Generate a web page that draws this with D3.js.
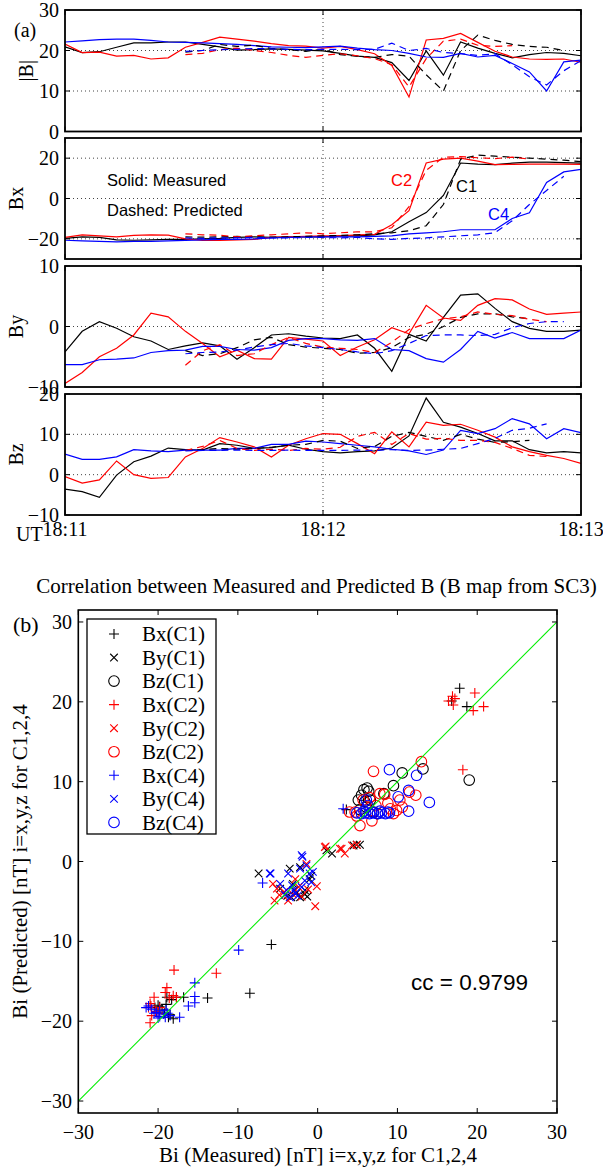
<!DOCTYPE html>
<html>
<head>
<meta charset="utf-8">
<script src="https://cdn.jsdelivr.net/npm/d3@7"></script>
<style>
  body { margin: 0; background: #fff; }
  svg { display: block; }
  .serif { font-family: "Liberation Serif", "Times New Roman", serif; }
  .sans { font-family: "Liberation Sans", Arial, sans-serif; }
</style>
</head>
<body>
<div id="chart"></div>
<script>
// ---- time series (4 s samples, 18:11 -> 18:13) ----
var timeSec = [0,4,8,12,16,20,24,28,32,36,40,44,48,52,56,60,64,68,72,76,80,84,88,92,96,100,104,108,112,116,120];
var timeTicks = [0, 60, 120];
var timeTickLabels = ["18:11", "18:12", "18:13"];
var N = null;

// |B|
var bMagC1 = [20.9,19.5,19.7,20.8,21.9,21.9,22.1,22.1,21.5,20.9,20.1,20.2,20.4,20.3,20.1,19.9,19.3,18.6,18.3,17.0,12.6,19.9,13.9,22.1,20.6,19.3,18.2,19.0,19.5,19.3,18.7];
var bMagC2 = [21.6,19.5,19.6,18.6,18.8,17.9,18.2,20.8,22.0,23.3,22.8,22.3,21.7,21.2,21.1,20.6,21.0,20.2,19.2,16.3,8.5,22.6,23.0,24.2,22.0,19.8,18.4,17.9,17.8,17.9,17.1];
var bMagC4 = [22.1,22.4,22.7,22.8,22.8,22.5,22.1,22.0,21.9,21.7,21.5,21.2,20.9,20.8,20.7,20.9,21.1,20.6,20.2,20.0,19.3,18.4,18.3,19.3,18.4,18.8,16.8,14.7,10.0,17.2,17.6];
var bMagC1p = [N,N,N,N,N,N,N,19.6,20.0,21.5,21.0,21.3,20.5,20.2,19.8,20.3,19.0,18.6,18.3,19.0,18.6,14.0,10.0,20.0,23.8,22.5,21.5,21.0,20.8,20.0,N];
var bMagC2p = [N,N,N,N,N,N,N,19.0,19.3,20.2,20.6,20.0,19.5,18.8,18.3,18.8,19.2,18.7,18.0,16.5,11.0,18.0,22.3,22.8,21.3,21.0,21.2,N,N,N,N];
var bMagC4p = [N,N,N,N,N,N,N,19.8,20.0,20.2,20.3,20.5,20.4,20.3,20.2,20.3,20.3,20.2,20.3,21.8,20.0,20.5,19.5,19.2,18.8,19.2,16.5,13.5,11.5,15.0,17.5];

// Bx
var bxC1 = [-19.8,-19.0,-19.3,-20.5,-20.7,-20.5,-20.3,-20.3,-20.0,-19.8,-19.3,-19.0,-19.3,-19.0,-19.0,-19.0,-18.5,-18.5,-18.0,-16.5,-11.5,-7.0,1.5,17.6,17.0,16.8,17.5,18.0,18.0,17.8,17.5];
var bxC2 = [-19.3,-18.0,-18.5,-19.0,-18.3,-18.0,-18.2,-20.0,-20.8,-20.8,-20.5,-20.3,-19.3,-19.0,-18.8,-18.5,-18.5,-18.0,-17.8,-13.0,-6.0,17.6,19.5,20.0,18.5,16.8,16.9,17.0,17.0,17.0,16.9];
var bxC4 = [-20.7,-21.0,-21.3,-21.5,-21.3,-21.3,-21.0,-20.8,-20.5,-20.3,-20.3,-20.0,-19.5,-19.3,-19.0,-19.0,-19.0,-19.0,-18.8,-18.5,-17.5,-17.0,-16.5,-15.5,-15.5,-15.5,-9.9,-7.1,8.0,13.2,14.4];
var bxC1p = [N,N,N,N,N,N,N,-19.0,-19.2,-19.0,-18.8,-19.0,-19.2,-19.0,-18.8,-18.5,-18.3,-18.0,-17.5,-17.0,-16.0,-13.5,-3.0,19.5,21.5,21.0,20.5,20.0,19.5,19.0,18.3];
var bxC2p = [N,N,N,N,N,N,N,-17.5,-18.0,-18.2,-19.0,-18.5,-18.0,-17.5,-17.0,-17.5,-17.0,-16.5,-16.5,-14.5,-4.0,14.0,20.5,20.8,20.2,19.8,20.5,19.5,N,N,N];
var bxC4p = [N,N,N,N,N,N,N,-19.5,-19.8,-19.5,-19.5,-19.3,-19.5,-19.5,-19.3,-19.3,-19.5,-19.3,-20.0,-20.3,-19.8,-19.5,-19.0,-18.5,-18.0,-17.0,-11.0,-3.0,4.0,11.0,N];

// By
var byC1 = [-4.2,-0.8,0.8,-0.3,-1.7,-2.4,-3.8,-3.2,-2.7,-3.2,-5.4,-3.5,-1.4,-1.2,-1.6,-1.9,-2.0,-1.4,-3.6,-7.4,-1.3,-2.4,1.5,5.2,5.4,3.0,0.8,-0.3,-0.8,-0.8,-0.6];
var byC2 = [-9.4,-7.6,-5.0,-3.6,-1.4,2.2,1.6,-0.8,-2.8,-5.0,-3.9,-5.3,-5.4,-1.8,-2.1,-2.4,-4.8,-3.4,-2.2,-0.2,-1.2,3.5,1.4,1.0,3.5,4.6,4.4,2.9,2.0,2.2,2.4];
var byC4 = [-6.3,-6.3,-5.5,-5.4,-5.2,-4.3,-4.0,-3.9,-3.3,-3.3,-3.8,-3.9,-3.5,-2.3,-2.0,-2.0,-2.2,-2.3,-2.0,-3.8,-4.0,-5.3,-5.9,-3.8,-0.8,-1.9,-1.0,-2.0,-2.0,-2.0,-0.6];
var byC1p = [N,N,N,N,N,N,N,-4.0,-4.8,-4.5,-3.5,-2.2,-1.8,-3.0,-3.4,-3.6,-3.8,-4.4,-4.3,-3.5,-1.8,-1.3,0.0,1.5,2.1,2.1,1.6,1.3,N,N,N];
var byC2p = [N,N,N,N,N,N,N,-6.4,-4.0,-3.0,-4.8,-4.5,-3.0,-1.8,-2.8,-3.4,-3.6,-3.8,-4.3,-2.6,-0.5,0.5,1.3,1.6,2.4,2.0,1.8,1.2,0.8,N,N];
var byC4p = [N,N,N,N,N,N,N,-4.5,-4.3,-4.2,-3.9,-3.4,-3.0,-2.8,-3.2,-3.5,-3.8,-4.2,-4.5,-4.0,-2.8,-1.5,-1.4,-1.4,-1.5,-1.3,-0.2,0.5,0.8,0.8,N];

// Bz
var bzC1 = [-3.6,-4.2,-5.6,-0.1,3.2,4.6,6.6,6.2,6.1,7.7,7.3,6.5,6.7,7.3,6.3,5.7,5.4,5.7,5.9,6.6,9.6,19.0,13.0,11.8,10.2,8.4,8.4,6.2,5.4,5.7,5.4];
var bzC2 = [-0.5,-2.1,-1.3,3.4,0.0,-0.9,-0.7,4.4,6.5,9.2,8.1,6.9,4.4,7.3,8.9,10.2,10.0,7.7,5.2,10.6,6.9,13.0,12.2,12.5,11.0,9.3,6.9,5.7,4.8,4.0,2.8];
var bzC4 = [5.1,3.8,3.8,4.4,6.2,5.9,5.7,6.1,6.1,6.1,6.5,6.5,7.5,7.5,8.3,8.1,7.7,7.3,6.9,6.3,5.9,5.0,6.1,11.0,10.2,11.4,13.9,12.6,8.9,11.4,10.4];
var bzC1p = [N,N,N,N,N,N,N,6.0,6.2,6.5,6.3,6.5,6.8,7.3,7.5,8.5,8.3,6.5,7.0,9.5,10.5,9.5,8.5,10.0,8.8,8.0,8.2,8.5,N,N,N];
var bzC2p = [N,N,N,N,N,N,N,6.0,7.0,8.5,6.5,6.0,6.3,6.0,6.5,6.3,6.8,9.5,10.5,7.5,10.2,8.8,9.0,8.5,8.5,8.0,6.5,4.8,4.5,N,N];
var bzC4p = [N,N,N,N,N,N,N,5.9,6.0,6.0,6.1,6.0,6.0,6.1,6.0,6.0,6.0,6.1,6.0,6.2,6.0,6.1,6.3,6.5,7.7,9.0,11.0,11.5,12.6,N,N];

// ---- scatter: [measured, predicted] ----
var scBxC1 = [[17.8,21.7],[16.8,20.1],[18.7,19.4],[3.6,6.5],[-5.8,-10.4],[-8.5,-16.5],[-13.8,-17.1],[-16.8,-17.0],[-17.7,-17.0],[-18.9,-17.0],[-19.0,-17.9],[-18.7,-19.5],[-18.1,-19.7],[-20.4,-18.3],[-19.5,-18.6],[-19.8,-18.2],[-18.5,-19.2],[-19.2,-19.0],[-20.0,-18.0],[-18.3,-17.3]];
var scByC1 = [[1.1,1.4],[1.8,1.0],[4.9,2.1],[5.3,2.1],[4.5,2.0],[-7.4,-1.5],[-3.5,-0.9],[-2.2,-0.7],[-4.7,-3.4],[-3.1,-2.8],[-1.6,-4.1],[-2.2,-4.5],[-1.0,-2.2],[-1.6,-3.6],[-3.8,-4.3],[-2.6,-3.9],[-0.8,-1.8],[-2.9,-3.6],[-1.3,-4.4],[-3.3,-4.5]];
var scBzC1 = [[19.0,10.2],[10.6,11.1],[13.2,11.6],[9.5,9.5],[5.8,9.0],[5.5,8.3],[8.3,8.5],[6.6,7.7],[5.1,7.7],[6.1,6.8],[7.0,6.2],[5.9,7.5],[6.4,8.8],[5.3,6.5],[7.5,6.0],[6.2,9.2]];
var scBxC2 = [[19.7,21.1],[20.8,19.4],[19.5,18.9],[17.0,19.6],[16.4,20.1],[16.9,20.7],[18.2,11.5],[17.2,20.4],[-18.0,-13.6],[-12.7,-14.0],[-18.9,-15.8],[-20.5,-17.0],[-18.1,-16.8],[-17.7,-17.0],[-20.9,-18.1],[-21.2,-18.3],[-21.0,-20.2],[-20.8,-19.3],[-19.8,-18.3],[-18.6,-17.1],[-19.1,-16.4],[-20.3,-18.8],[-21.0,-17.8],[-20.0,-19.0]];
var scByC2 = [[0.9,1.8],[3.0,1.6],[3.4,1.0],[4.3,2.0],[4.9,2.1],[2.8,1.6],[1.0,1.9],[-5.6,-2.8],[-5.1,-3.4],[-5.4,-4.9],[-3.7,-4.9],[-2.4,-3.2],[-1.4,-0.3],[-0.3,-5.6],[-0.1,-3.1],[-3.1,-4.1],[-4.2,-3.8],[-2.0,-4.4],[-1.2,-3.5],[-4.8,-4.2],[-2.8,-2.2]];
var scBzC2 = [[13.0,12.5],[7.0,11.3],[11.5,8.7],[12.3,8.3],[10.3,7.7],[9.1,6.6],[9.9,6.4],[7.8,8.5],[8.4,8.4],[4.7,6.2],[5.3,4.5],[6.8,5.1],[4.0,6.2],[5.7,7.7],[10.6,6.8],[8.8,7.3],[6.5,8.0],[9.5,6.0],[7.3,7.0],[4.9,5.7]];
var scBxC4 = [[3.2,6.6],[-6.9,-2.7],[-9.9,-11.1],[-15.4,-15.2],[-15.4,-16.9],[-15.4,-17.7],[-16.2,-18.1],[-17.3,-19.5],[-18.5,-19.3],[-19.3,-19.1],[-19.8,-18.7],[-20.2,-18.9],[-20.8,-18.5],[-21.2,-18.1],[-19.8,-19.4],[-19.1,-19.5],[-20.5,-19.0],[-19.0,-18.6],[-18.8,-19.0],[-20.0,-19.6],[-21.5,-18.3]];
var scByC4 = [[-5.9,-1.5],[-3.7,-1.5],[-1.9,0.6],[-1.0,-1.5],[-0.8,-2.6],[-3.9,-3.6],[-2.8,-4.0],[-2.0,-3.2],[-4.7,-2.8],[-3.5,-4.5],[-1.4,-0.5],[-2.0,0.8],[-2.2,-0.9],[-6.0,-1.5],[-3.2,-3.0],[-2.5,-4.3],[-4.1,-4.2],[-1.6,-2.4],[-3.0,-3.6],[-0.6,-1.3]];
var scBzC4 = [[9.0,11.5],[12.4,10.8],[11.4,8.9],[10.1,8.1],[14.0,7.4],[11.4,6.3],[6.1,7.7],[4.9,6.1],[5.5,6.0],[6.0,6.1],[6.5,6.0],[7.0,6.1],[7.5,6.0],[8.0,6.1],[8.5,6.0],[9.0,6.1],[5.8,6.3],[6.8,6.2],[7.8,6.3],[8.8,6.2],[6.3,7.0]];

var scTicks = [-30,-20,-10,0,10,20,30];
var legendLabels = ["Bx(C1)","By(C1)","Bz(C1)","Bx(C2)","By(C2)","Bz(C2)","Bx(C4)","By(C4)","Bz(C4)"];
var ccText = "cc = 0.9799";

// ------------------------------------------------------------
var width = 603, height = 1170;
var RED = "#ff0000", BLUE = "#0000ff", BLACK = "#000000", GREEN = "#00ee00";
var fmt = d3.format("");

var svg = d3.select("#chart").append("svg")
  .attr("width", width).attr("height", height);

var x = d3.scaleLinear().domain([0, 120]).range([65, 581]);

var panels = [
  { top: 10,  bottom: 131.5, domain: [0, 30],   ticks: [0,10,20,30],   label: "|B|", labelX: 27,
    series: [[bMagC1,BLACK],[bMagC2,RED],[bMagC4,BLUE]], pred: [[bMagC1p,BLACK],[bMagC2p,RED],[bMagC4p,BLUE]] },
  { top: 138, bottom: 259,   domain: [-30, 30], ticks: [-20,0,20],     label: "Bx",  labelX: 17,
    series: [[bxC1,BLACK],[bxC2,RED],[bxC4,BLUE]], pred: [[bxC1p,BLACK],[bxC2p,RED],[bxC4p,BLUE]] },
  { top: 266, bottom: 387,   domain: [-10, 10], ticks: [-10,0,10],     label: "By",  labelX: 17,
    series: [[byC1,BLACK],[byC2,RED],[byC4,BLUE]], pred: [[byC1p,BLACK],[byC2p,RED],[byC4p,BLUE]] },
  { top: 394, bottom: 515,   domain: [-10, 20], ticks: [-10,0,10,20],  label: "Bz",  labelX: 17,
    series: [[bzC1,BLACK],[bzC2,RED],[bzC4,BLUE]], pred: [[bzC1p,BLACK],[bzC2p,RED],[bzC4p,BLUE]] }
];

panels.forEach(function (p, k) {
  var y = d3.scaleLinear().domain(p.domain).range([p.bottom, p.top]);
  var g = svg.append("g");

  // dotted grid
  g.selectAll(".hg").data(p.ticks.filter(function (t) { return y(t) > p.top + 1 && y(t) < p.bottom - 1; }))
    .enter().append("line")
    .attr("x1", x.range()[0]).attr("x2", x.range()[1])
    .attr("y1", function (d) { return y(d); }).attr("y2", function (d) { return y(d); })
    .attr("stroke", "#444").attr("stroke-width", 1).attr("stroke-dasharray", "1,3");
  g.selectAll(".vg").data([60]).enter().append("line")
    .attr("x1", x).attr("x2", x).attr("y1", p.top).attr("y2", p.bottom)
    .attr("stroke", "#444").attr("stroke-width", 1).attr("stroke-dasharray", "1,3");

  var line = d3.line()
    .defined(function (d) { return d != null; })
    .x(function (d, i) { return x(timeSec[i]); })
    .y(function (d) { return y(d); });

  var clipId = "clip" + k;
  svg.append("clipPath").attr("id", clipId).append("rect")
    .attr("x", x.range()[0]).attr("y", p.top).attr("width", x.range()[1] - x.range()[0]).attr("height", p.bottom - p.top);

  var lg = g.append("g").attr("clip-path", "url(#" + clipId + ")");
  p.series.forEach(function (s) {
    lg.append("path").attr("d", line(s[0])).attr("fill", "none")
      .attr("stroke", s[1]).attr("stroke-width", 1.2);
  });
  p.pred.forEach(function (s) {
    lg.append("path").attr("d", line(s[0])).attr("fill", "none")
      .attr("stroke", s[1]).attr("stroke-width", 1.2).attr("stroke-dasharray", "7,5");
  });

  // ticks (inside) and frame
  var ax = g.append("g");
  p.ticks.forEach(function (t) {
    ax.append("line").attr("x1", x.range()[0]).attr("x2", x.range()[0] + 5)
      .attr("y1", y(t)).attr("y2", y(t)).attr("stroke", "#000");
    ax.append("line").attr("x1", x.range()[1] - 5).attr("x2", x.range()[1])
      .attr("y1", y(t)).attr("y2", y(t)).attr("stroke", "#000");
  });
  timeTicks.forEach(function (t) {
    ax.append("line").attr("x1", x(t)).attr("x2", x(t)).attr("y1", p.top).attr("y2", p.top + 5).attr("stroke", "#000");
    ax.append("line").attr("x1", x(t)).attr("x2", x(t)).attr("y1", p.bottom - 5).attr("y2", p.bottom).attr("stroke", "#000");
  });
  ax.append("rect").attr("x", x.range()[0]).attr("y", p.top)
    .attr("width", x.range()[1] - x.range()[0]).attr("height", p.bottom - p.top)
    .attr("fill", "none").attr("stroke", "#000").attr("stroke-width", 1.8);

  g.selectAll(".yt").data(p.ticks).enter().append("text")
    .attr("class", "serif")
    .attr("x", 59).attr("y", function (d) { return y(d); })
    .attr("dy", "0.35em").attr("text-anchor", "end")
    .attr("font-size", 20).text(fmt);

  g.append("text").attr("class", "serif")
    .attr("transform", "translate(" + (p.labelX + 6) + "," + ((p.top + p.bottom) / 2) + ") rotate(-90)")
    .attr("text-anchor", "middle").attr("font-size", 20).text(p.label);
});

// time axis labels
svg.selectAll(".xt").data(timeTicks).enter().append("text")
  .attr("class", "serif").attr("x", x).attr("y", 536)
  .attr("text-anchor", "middle").attr("font-size", 20)
  .text(function (d, i) { return timeTickLabels[i]; });
svg.append("text").attr("class", "serif").attr("x", 16).attr("y", 541)
  .attr("font-size", 20).text("UT");
svg.append("text").attr("class", "serif").attr("x", 14).attr("y", 37)
  .attr("font-size", 20).text("(a)");

// annotations in Bx panel
svg.append("text").attr("class", "sans").attr("x", 107).attr("y", 186).attr("font-size", 16.5).text("Solid: Measured");
svg.append("text").attr("class", "sans").attr("x", 107).attr("y", 216).attr("font-size", 16.5).text("Dashed: Predicted");
svg.append("text").attr("class", "sans").attr("x", 391).attr("y", 186).attr("font-size", 16.5).attr("fill", RED).text("C2");
svg.append("text").attr("class", "sans").attr("x", 456).attr("y", 192).attr("font-size", 16.5).attr("fill", BLACK).text("C1");
svg.append("text").attr("class", "sans").attr("x", 488).attr("y", 220).attr("font-size", 16.5).attr("fill", BLUE).text("C4");

// ------------------------------------------------------------
// scatter
var sx = d3.scaleLinear().domain([-30, 30]).range([78.3, 557]);
var sy = d3.scaleLinear().domain([-31.5, 31.5]).range([1113, 610]);

svg.append("text").attr("class", "serif").attr("x", 316.5).attr("y", 593)
  .attr("text-anchor", "middle").attr("font-size", 21)
  .text("Correlation between Measured and Predicted B (B map from SC3)");
svg.append("text").attr("class", "serif").attr("x", 13).attr("y", 632)
  .attr("font-size", 22).text("(b)");

var plus = "M-5,0H5M0,-5V5";
var cross = "M-3.8,-3.8L3.8,3.8M-3.8,3.8L3.8,-3.8";

var scSeries = [
  [scBxC1, BLACK, "plus"], [scByC1, BLACK, "cross"], [scBzC1, BLACK, "circle"],
  [scBxC2, RED, "plus"],   [scByC2, RED, "cross"],   [scBzC2, RED, "circle"],
  [scBxC4, BLUE, "plus"],  [scByC4, BLUE, "cross"],  [scBzC4, BLUE, "circle"]
];

function drawMarker(sel, type, color) {
  if (type == "circle") {
    sel.append("circle").attr("r", 5.3).attr("fill", "none").attr("stroke", color).attr("stroke-width", 1.1);
  } else {
    sel.append("path").attr("d", type == "plus" ? plus : cross)
      .attr("fill", "none").attr("stroke", color).attr("stroke-width", 1.1);
  }
}

var sg = svg.append("g");
scSeries.forEach(function (s) {
  sg.selectAll(null).data(s[0]).enter().append("g")
    .attr("transform", function (d) { return "translate(" + sx(d[0]) + "," + sy(d[1]) + ")"; })
    .each(function () { drawMarker(d3.select(this), s[2], s[1]); });
});

// 1:1 line
svg.append("line").attr("x1", sx(-30)).attr("y1", sy(-30)).attr("x2", sx(30)).attr("y2", sy(30))
  .attr("stroke", GREEN).attr("stroke-width", 1.1);

// axes frame + inside ticks
var sxr = sx.range(), syr = sy.range();
svg.append("rect").attr("x", sxr[0]).attr("y", syr[1]).attr("width", sxr[1] - sxr[0]).attr("height", syr[0] - syr[1])
  .attr("fill", "none").attr("stroke", "#000").attr("stroke-width", 1.6);
scTicks.forEach(function (t) {
  svg.append("line").attr("x1", sx(t)).attr("x2", sx(t)).attr("y1", syr[0]).attr("y2", syr[0] - 5).attr("stroke", "#000");
  svg.append("line").attr("x1", sx(t)).attr("x2", sx(t)).attr("y1", syr[1]).attr("y2", syr[1] + 5).attr("stroke", "#000");
  svg.append("line").attr("x1", sxr[0]).attr("x2", sxr[0] + 5).attr("y1", sy(t)).attr("y2", sy(t)).attr("stroke", "#000");
  svg.append("line").attr("x1", sxr[1] - 5).attr("x2", sxr[1]).attr("y1", sy(t)).attr("y2", sy(t)).attr("stroke", "#000");
});
svg.selectAll(".sxt").data(scTicks).enter().append("text")
  .attr("class", "serif").attr("x", sx).attr("y", 1139)
  .attr("text-anchor", "middle").attr("font-size", 20).text(fmt);
svg.selectAll(".syt").data(scTicks).enter().append("text")
  .attr("class", "serif").attr("x", 72).attr("y", sy).attr("dy", "0.35em")
  .attr("text-anchor", "end").attr("font-size", 20).text(fmt);

svg.append("text").attr("class", "serif").attr("x", 318).attr("y", 1162)
  .attr("text-anchor", "middle").attr("font-size", 21)
  .text("Bi (Measured) [nT] i=x,y,z for C1,2,4");
svg.append("text").attr("class", "serif")
  .attr("transform", "translate(27," + ((syr[0] + syr[1]) / 2) + ") rotate(-90)")
  .attr("text-anchor", "middle").attr("font-size", 21)
  .text("Bi (Predicted) [nT] i=x,y,z for C1,2,4");

svg.append("text").attr("class", "sans").attr("x", 411).attr("y", 990)
  .attr("font-size", 22.5).text(ccText);

// legend
var leg = svg.append("g");
leg.append("rect").attr("x", 87).attr("y", 619).attr("width", 129).attr("height", 215)
  .attr("fill", "#fff").attr("stroke", "#000").attr("stroke-width", 1.3);
var rows = leg.selectAll(".row").data(scSeries).enter().append("g")
  .attr("transform", function (d, i) { return "translate(0," + (634 + i * 23.55) + ")"; });
rows.each(function (s) {
  var m = d3.select(this).append("g").attr("transform", "translate(114,0)");
  drawMarker(m, s[2], s[1]);
});
rows.append("text").attr("class", "serif").attr("x", 142).attr("dy", "0.35em")
  .attr("font-size", 21).text(function (d, i) { return legendLabels[i]; });
</script>
</body>
</html>
